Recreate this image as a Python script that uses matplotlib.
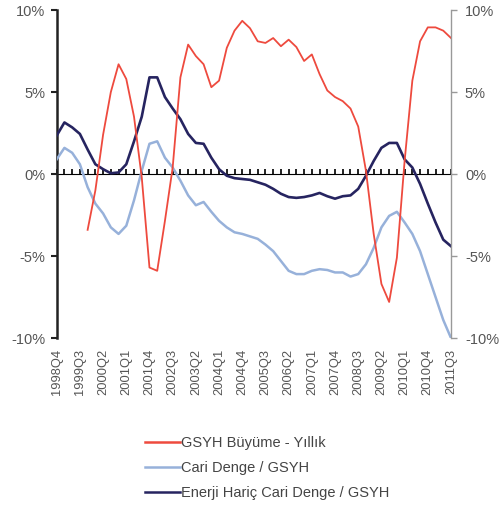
import numpy as np
import matplotlib
matplotlib.use("Agg")
import matplotlib.pyplot as plt
from matplotlib.lines import Line2D

# quarterly labels 1998Q4 .. 2011Q3
quarters = []
for yr in range(1998, 2012):
    for q in range(1, 5):
        if (yr == 1998 and q < 4) or (yr == 2011 and q > 3):
            continue
        quarters.append(f"{yr}Q{q}")

# GSYH Buyume - Yillik (starts 1999Q4)
gdp_growth = [np.nan, np.nan, np.nan, np.nan,
              -3.4, -1.0, 2.4, 5.0, 6.7, 5.8, 3.5, -0.2,
              -5.7, -5.9, -2.85, 0.4, 5.9, 7.9, 7.2, 6.7,
              5.3, 5.7, 7.7, 8.75, 9.35, 8.9, 8.1, 8.0,
              8.3, 7.8, 8.2, 7.75, 6.9, 7.3, 6.1, 5.1,
              4.7, 4.45, 4.0, 2.9, 0.2, -3.65, -6.7, -7.8,
              -5.1, 0.8, 5.7, 8.1, 8.95, 8.95, 8.75, 8.3]

# Cari Denge / GSYH
current_acc = [0.9, 1.6, 1.3, 0.6, -0.8, -1.8, -2.4, -3.25,
               -3.65, -3.15, -1.6, 0.2, 1.85, 2.0, 1.0, 0.4,
               -0.4, -1.3, -1.9, -1.7, -2.3, -2.85, -3.25, -3.55,
               -3.65, -3.8, -3.95, -4.3, -4.7, -5.3, -5.9, -6.1,
               -6.1, -5.9, -5.8, -5.85, -6.0, -6.0, -6.25, -6.1,
               -5.5, -4.5, -3.25, -2.55, -2.3, -2.95, -3.65, -4.7,
               -6.1, -7.5, -8.9, -10.0]

# Enerji Haric Cari Denge / GSYH
ex_energy = [2.35, 3.15, 2.85, 2.45, 1.5, 0.6, 0.3, 0.05,
             0.1, 0.6, 2.0, 3.5, 5.9, 5.9, 4.7, 4.0,
             3.35, 2.45, 1.9, 1.85, 1.0, 0.3, -0.1, -0.25,
             -0.3, -0.35, -0.5, -0.65, -0.9, -1.2, -1.4, -1.45,
             -1.4, -1.3, -1.15, -1.35, -1.5, -1.35, -1.3, -0.9,
             -0.1, 0.8, 1.6, 1.9, 1.9, 0.9, 0.4, -0.6,
             -1.8, -2.95, -4.0, -4.4]

labels = ["GSYH Büyüme - Yıllık", "Cari Denge / GSYH",
          "Enerji Hariç Cari Denge / GSYH"]
colors = ["#EE4A3E", "#97B1DA", "#262460"]

plt.rcParams["font.family"] = ["Liberation Sans", "DejaVu Sans"]

fig = plt.figure(figsize=(5, 5.08), dpi=100)
ax = fig.add_axes([0.1134, 0.3346, 0.7886, 0.6454])

x = np.arange(len(quarters))
ax.plot(x, current_acc, color=colors[1], lw=1.8, zorder=3)
ax.plot(x, ex_energy, color=colors[2], lw=1.9, zorder=4)
ax.plot(x, gdp_growth, color=colors[0], lw=1.3, zorder=5)

ax.set_xlim(0, len(quarters) - 1)
ax.set_ylim(-10, 10)
ax.set_yticks([-10, -5, 0, 5, 10])
ax.set_yticklabels(["-10%", "-5%", "0%", "5%", "10%"])
ax.tick_params(axis="y", direction="out", length=4, width=1.5,
               color="#222222", labelsize=10.5, labelcolor="#555555", pad=4)

for s in ["top", "right", "bottom"]:
    ax.spines[s].set_visible(False)
ax.spines["left"].set_linewidth(1.8)
ax.spines["left"].set_color("#222222")

# category labels every 3 quarters at the bottom
ax.set_xticks(x[::3])
ax.set_xticklabels(quarters[::3], rotation=90, fontsize=9.3, color="#555555")
ax.tick_params(axis="x", length=0, pad=8)

# zero line with a tick per quarter
zero = ax.secondary_xaxis(0.5)
zero.set_xticks(x)
zero.set_xticklabels([])
zero.tick_params(axis="x", direction="out", length=3.5, width=1.3, color="#111111")
zero.spines["bottom"].set_linewidth(1.6)
zero.spines["bottom"].set_color("#111111")

# right axis
ax2 = ax.twinx()
ax2.set_ylim(-10, 10)
ax2.set_yticks([-10, -5, 0, 5, 10])
ax2.set_yticklabels(["-10%", "-5%", "0%", "5%", "10%"])
ax2.tick_params(axis="y", direction="out", length=4, width=1,
                color="#999999", labelsize=10.5, labelcolor="#555555", pad=6)
for s in ["top", "left", "bottom"]:
    ax2.spines[s].set_visible(False)
ax2.spines["right"].set_color("#999999")
ax2.spines["right"].set_linewidth(1.0)

handles = [Line2D([], [], color=c, lw=1.8) for c in colors]
fig.legend(handles, labels, loc="upper left", bbox_to_anchor=(0.29, 0.142),
           frameon=False, fontsize=10.5, handlelength=2.4, handletextpad=0.05,
           labelspacing=0.75, labelcolor="#444444", borderpad=0,
           borderaxespad=0)

fig.savefig("out.png", dpi=100)
